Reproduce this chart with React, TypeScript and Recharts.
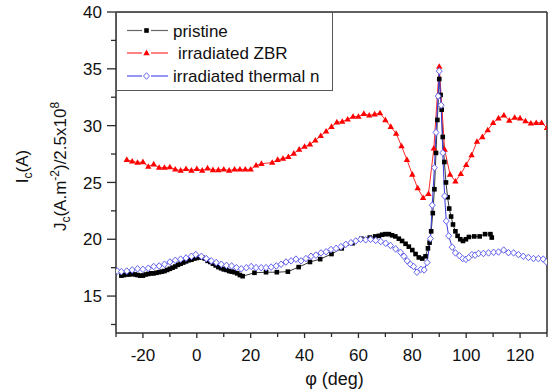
import { LineChart, Line, XAxis, YAxis, Legend, ReferenceLine } from 'recharts';

const FONT = "'Liberation Sans', Arial, sans-serif";
const AXIS = '#2b2b2b';

// pristine (black squares)
const pristinePhi = [
  -28, -27, -26, -25, -24, -23, -22, -21, -20, -19, -18, -17, -16, -15, -14, -13, -12, -11, -10, -9,
  -8, -7, -6, -5, -4, -3, -2, -1, 0, 1, 2, 3, 4, 5, 6, 7, 8, 9, 10, 11, 12, 13, 14, 15, 16, 17,
  21.4, 25.7, 29.7, 33.8, 37.8, 42, 45.8, 50, 53.8, 57.8, 61.1, 64.2, 66.2, 67.6, 68.8, 70, 71.3,
  72.5, 73.7, 75, 76.2, 77.5, 78.7, 80, 81.2, 82.4, 83.7, 84.9, 85.8, 86.4, 87, 87.6, 88.2, 88.8,
  89.3, 89.7, 90, 90.5, 90.9, 91.3, 91.9, 92.5, 93.1, 93.7, 94.4, 95.1, 96, 96.8, 97.8, 98.8, 99.9,
  101, 103, 105, 107, 109, 109.5,
];
const pristineJc = [
  16.8, 16.85, 16.9, 16.9, 16.95, 16.9, 16.85, 16.8, 16.8, 16.9, 16.95, 17.0, 17.0, 17.05, 17.1, 17.15, 17.2, 17.3, 17.4, 17.5,
  17.6, 17.75, 17.85, 17.95, 18.05, 18.15, 18.2, 18.3, 18.35, 18.4, 18.4, 18.3, 18.1, 18.0, 17.85, 17.7, 17.55, 17.45, 17.35, 17.3, 17.2, 17.15, 17.1, 17.0, 16.85, 16.75,
  17.05, 17.1, 17.1, 17.15, 17.55, 18.0, 18.25, 18.7, 19.2, 19.65, 20.05, 20.15, 20.25, 20.3, 20.4, 20.45, 20.45,
  20.35, 20.25, 20.05, 19.85, 19.6, 19.35, 19.05, 18.7, 18.4, 18.3, 18.5, 19.2, 19.7, 20.7, 22.3, 24.4, 27.6,
  30.5, 32.6, 34.1, 32.7, 31.4, 29.0, 26.8, 25.0, 23.7, 22.7, 22.0, 21.3, 20.7, 20.3, 20.0, 19.85, 20.0,
  20.2, 20.25, 20.25, 20.45, 20.45, 20.15,
];

// irradiated ZBR (red triangles)
const zbrPhi = [
  -26, -24, -22, -20, -18, -16, -14, -12, -10, -8, -6, -4, -2, 0, 2, 4, 6, 8, 10, 12, 14, 16, 18, 20,
  22, 24, 28, 30, 32, 34, 36, 38, 40, 42, 44, 46, 48, 50, 52, 54, 56, 58, 60, 62, 64, 66, 68, 70, 72,
  74, 76, 78, 80, 82, 84, 86, 88, 90, 92, 94, 96, 98, 100, 102, 104, 106, 108, 110, 112, 114, 116, 118,
  120, 122, 124, 126, 128, 130,
];
const zbrJc = [
  27.0, 26.85, 26.75, 26.8, 26.4, 26.6, 26.3, 26.3, 26.35, 26.15, 26.05, 26.2, 26.05, 26.2, 26.05, 26.25, 26.1, 26.1, 26.15, 26.05, 26.15, 26.15, 26.15, 26.15,
  26.5, 26.65, 26.75, 27.0, 27.1, 27.25, 27.55, 27.9, 28.15, 28.35, 28.7, 29.1, 29.5, 29.9, 30.3, 30.35, 30.55, 30.8, 30.8, 31.05, 30.9, 31.0, 31.1, 30.5, 29.9,
  29.3, 28.2, 27.0, 25.7, 24.5, 23.65, 24.0, 28.0, 35.2, 27.9, 25.7, 25.1, 25.75, 26.55, 27.4, 28.6, 29.0, 29.6, 30.25, 30.65, 30.9, 30.45, 30.7,
  30.65, 30.4, 30.2, 30.25, 30.25, 29.8,
];

// irradiated thermal n (blue open diamonds)
const thermalPhi = [
  -29.5, -28, -26, -24, -22, -20, -18, -16, -14, -12, -10, -8, -6, -4, -2, -0.4, 1.7, 3.5, 5.4, 7.2,
  9.1, 11, 12.9, 14.7, 16.5, 18.4, 20.2, 22, 23.9, 25.7, 27.6, 29.5, 31.3, 33.1, 35, 36.8, 38.7, 40.5,
  42.4, 44.2, 46.1, 48, 49.8, 51.7, 53.5, 55.3, 57.2, 59, 60.8, 62.7, 64.5, 66.4, 68.3, 70.1, 71.9,
  73.8, 75.6, 76.9, 78.1, 79.3, 80.5, 81.7, 83.2, 84.4, 85.5, 86.7, 87.4, 88.2, 88.8, 89.6, 90, 90.7,
  91.3, 92, 92.6, 93.5, 94.8, 96, 97.5, 98.7, 99.9, 100.9, 102.1, 103.3, 104.6, 106.4, 108.3, 110.2,
  112, 113.9, 115.7, 117.6, 119.4, 121.2, 123.1, 125, 126.8, 128.6, 129.8,
];
const thermalJc = [
  17.2, 17.15, 17.2, 17.3, 17.4, 17.35, 17.45, 17.6, 17.65, 17.8, 18.0, 18.15, 18.25, 18.35, 18.5, 18.65, 18.5, 18.3, 18.1, 17.95,
  17.8, 17.7, 17.65, 17.5, 17.4, 17.5, 17.6, 17.5, 17.5, 17.5, 17.55, 17.65, 17.8, 18.0, 18.1, 18.25, 18.1, 18.3,
  18.5, 18.6, 18.8, 18.9, 19.1, 19.2, 19.35, 19.55, 19.7, 19.85, 20.0, 19.95, 20.0, 19.9, 19.8, 19.65, 19.45,
  19.15, 18.85, 18.5, 18.1, 17.8, 17.6, 17.1, 17.35, 17.3, 17.95, 20.05, 23.0, 26.3, 29.4, 32.6, 34.8, 31.8,
  27.6, 23.8, 21.6, 20.3, 19.3, 18.8, 18.55, 18.3, 18.23, 18.38, 18.65, 18.6, 18.75, 18.75, 18.8, 18.85,
  18.88, 19.05, 18.82, 18.8, 18.65, 18.5, 18.4, 18.3, 18.3, 18.25, 18.0,
];

const xTicks = [-30, -20, -10, 0, 10, 20, 30, 40, 50, 60, 70, 80, 90, 100, 110, 120, 130];
const yTicks = [12.5, 15, 17.5, 20, 22.5, 25, 27.5, 30, 32.5, 35, 37.5, 40];

const zip = (phi: number[], jc: number[]) => phi.map((p, i) => ({ phi: p, jc: jc[i] }));
const pristine = zip(pristinePhi, pristineJc);
const zbr = zip(zbrPhi, zbrJc);
const thermal = zip(thermalPhi, thermalJc);

const squareDot = (p: any) => (
  <rect key={`sq-${p.index}`} x={p.cx - 2.3} y={p.cy - 2.3} width={4.6} height={4.6} fill="#000" />
);
const triangleDot = (p: any) => (
  <path key={`tr-${p.index}`} d={`M${p.cx},${p.cy - 3.4}L${p.cx + 3.2},${p.cy + 2.2}L${p.cx - 3.2},${p.cy + 2.2}Z`} fill="#f00" />
);
const diamondDot = (p: any) => (
  <path key={`di-${p.index}`} d={`M${p.cx},${p.cy - 3.3}L${p.cx + 3},${p.cy}L${p.cx},${p.cy + 3.3}L${p.cx - 3},${p.cy}Z`} fill="#fff" stroke="#6464f0" strokeWidth={1} />
);

function YTick({ x, y, payload }: any) {
  const v = payload.value;
  const major = v % 5 === 0;
  return (
    <g>
      <line x1={x - (major ? 9 : 5)} x2={x} y1={y} y2={y} stroke={AXIS} strokeWidth={1.3} />
      {major && (
        <text x={x - 14} y={y} dy="0.36em" textAnchor="end" fontSize={17} fill="#111" fontFamily={FONT}>
          {v}
        </text>
      )}
    </g>
  );
}

function XTick({ x, y, payload }: any) {
  const v = payload.value;
  const major = v % 20 === 0;
  return (
    <g>
      <line x1={x} x2={x} y1={y} y2={y + (major ? 5 : 4)} stroke={AXIS} strokeWidth={1.3} />
      {major && (
        <text x={x} y={y + 28} textAnchor="middle" fontSize={17} fill="#111" fontFamily={FONT}>
          {v}
        </text>
      )}
    </g>
  );
}

function XTitle({ viewBox }: any) {
  const vb = viewBox ?? { x: 116, y: 333, width: 431, height: 30 };
  return (
    <text x={vb.x + vb.width / 2 + 3} y={vb.y + 52} textAnchor="middle" fontSize={18} fill="#111" fontFamily={FONT}>
      φ (deg)
    </text>
  );
}

function YTitle({ viewBox }: any) {
  const vb = viewBox ?? { x: 0, y: 12, width: 116, height: 321 };
  const cy = vb.y + vb.height / 2 - 6;
  return (
    <g fontFamily={FONT} fontSize={17} fill="#111">
      <text transform={`translate(28,${cy}) rotate(-90)`} textAnchor="middle">
        I<tspan dy={4} fontSize={12}>c</tspan>
        <tspan dy={-4}>(A)</tspan>
      </text>
      <text transform={`translate(66,${cy}) rotate(-90)`} textAnchor="middle">
        J<tspan dy={4} fontSize={12}>c</tspan>
        <tspan dy={-4}>(A.m</tspan>
        <tspan dy={-7} fontSize={12}>-2</tspan>
        <tspan dy={7}>)/2.5x10</tspan>
        <tspan dy={-7} fontSize={12}>8</tspan>
      </text>
    </g>
  );
}

function LegendBox() {
  const rows = [
    { name: 'pristine', line: '#666', y: 18.5, tx: 57, mark: (cx: number, cy: number) => <rect x={cx - 2.3} y={cy - 2.3} width={4.6} height={4.6} fill="#000" /> },
    { name: 'irradiated ZBR', line: '#ff3030', y: 41, tx: 62, mark: (cx: number, cy: number) => <path d={`M${cx},${cy - 3.4}L${cx + 3.2},${cy + 2.2}L${cx - 3.2},${cy + 2.2}Z`} fill="#f00" /> },
    { name: 'irradiated thermal n', line: '#5050ea', y: 64, tx: 57, mark: (cx: number, cy: number) => <path d={`M${cx},${cy - 3.3}L${cx + 3},${cy}L${cx},${cy + 3.3}L${cx - 3},${cy}Z`} fill="#fff" stroke="#6464f0" /> },
  ];
  return (
    <svg width={217} height={79} style={{ display: 'block' }}>
      <rect x={0.5} y={0.5} width={216} height={78} fill="#fff" stroke="#555" strokeWidth={1} />
      {rows.map((r) => (
        <g key={r.name}>
          <line x1={11} x2={26} y1={r.y} y2={r.y} stroke={r.line} strokeWidth={1.2} />
          <line x1={35} x2={52} y1={r.y} y2={r.y} stroke={r.line} strokeWidth={1.2} />
          {r.mark(30.5, r.y)}
          <text x={r.tx} y={r.y + 6} fontSize={17} fill="#111" fontFamily={FONT}>
            {r.name}
          </text>
        </g>
      ))}
    </svg>
  );
}

export default function App() {
  return (
    <div style={{ position: 'absolute', left: 0, top: 0, width: 549, height: 390, background: '#fff' }}>
      <LineChart width={549} height={390} margin={{ top: 12, right: 2, bottom: 27, left: 0 }}>
        <XAxis
          type="number"
          dataKey="phi"
          domain={[-30, 130]}
          ticks={xTicks}
          interval={0}
          allowDataOverflow
          height={30}
          tickSize={0}
          tickMargin={0}
          tickLine={false}
          axisLine={{ stroke: AXIS, strokeWidth: 1.5 }}
          tick={(p: any) => <XTick {...p} />}
          label={<XTitle />}
        />
        <YAxis
          type="number"
          domain={[11.75, 40]}
          ticks={yTicks}
          interval={0}
          allowDataOverflow
          width={116}
          tickSize={0}
          tickMargin={0}
          tickLine={false}
          axisLine={{ stroke: AXIS, strokeWidth: 1.5 }}
          tick={(p: any) => <YTick {...p} />}
          label={<YTitle />}
        />
        <ReferenceLine y={40} stroke={AXIS} strokeWidth={1.5} />
        <ReferenceLine x={130} stroke={AXIS} strokeWidth={1.5} />
        <Line data={pristine} dataKey="jc" name="pristine" stroke="#3a3a3a" strokeWidth={1} dot={squareDot} activeDot={false} isAnimationActive={false} />
        <Line data={zbr} dataKey="jc" name="irradiated ZBR" stroke="#ff2a2a" strokeWidth={1} dot={triangleDot} activeDot={false} isAnimationActive={false} />
        <Line data={thermal} dataKey="jc" name="irradiated thermal n" stroke="#3838d8" strokeWidth={1} dot={diamondDot} activeDot={false} isAnimationActive={false} />
        <Legend
          layout="vertical"
          align="center"
          verticalAlign="middle"
          wrapperStyle={{ position: 'absolute', left: 116, top: 12, width: 217, height: 79, margin: 0 }}
          content={() => <LegendBox />}
        />
      </LineChart>
    </div>
  );
}
